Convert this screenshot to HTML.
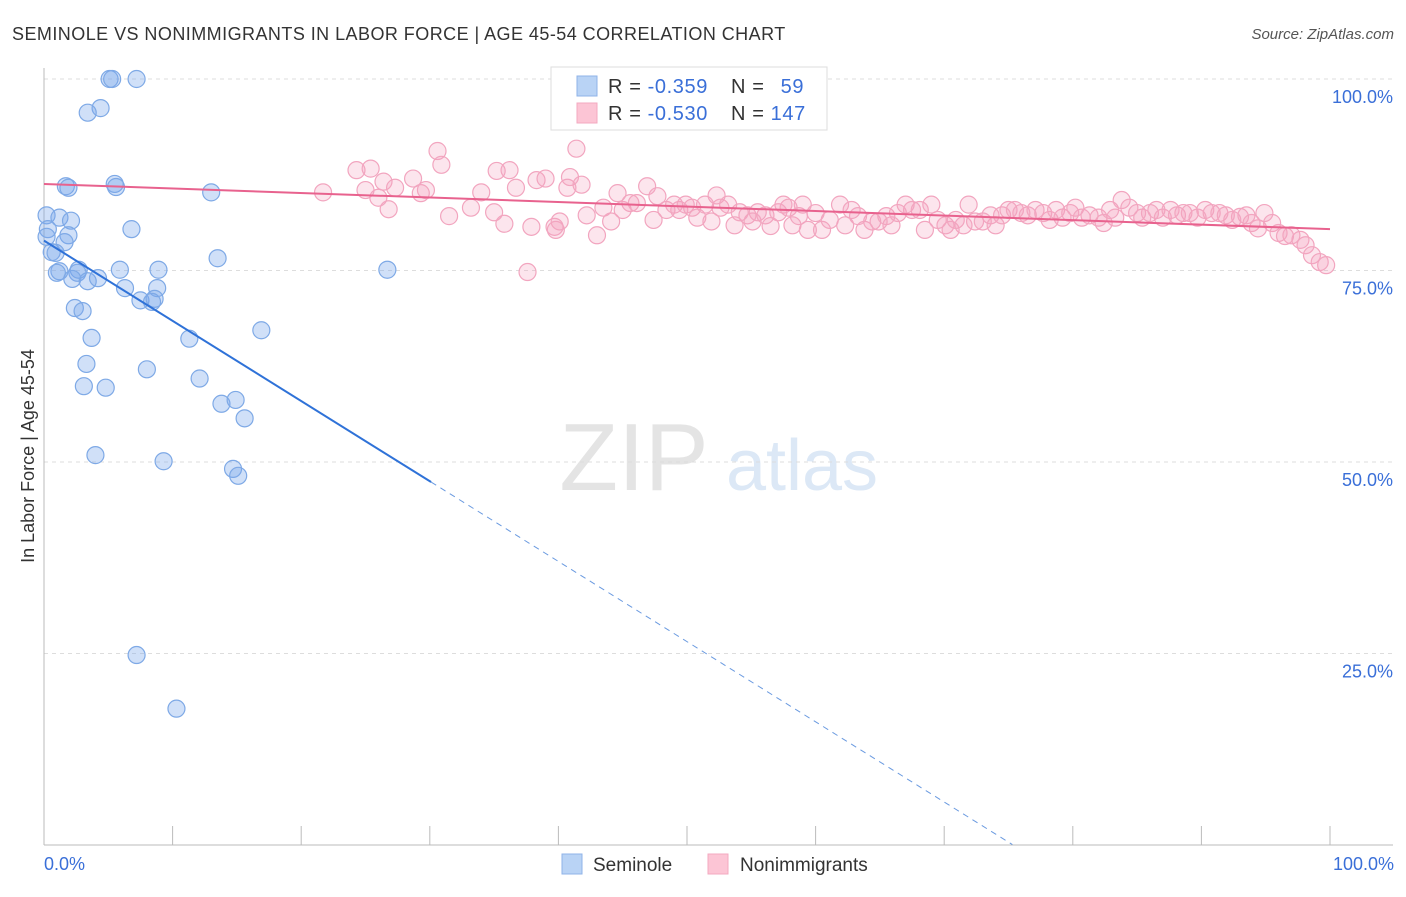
<!DOCTYPE html>
<html><head><meta charset="utf-8"><style>
body{margin:0;background:#fff;font-family:"Liberation Sans",sans-serif;}
svg text{font-family:"Liberation Sans",sans-serif;}
</style></head><body>
<svg id="chart" width="1406" height="892">
<text x="12" y="40" font-size="18" fill="#333" letter-spacing="0.45">SEMINOLE VS NONIMMIGRANTS IN LABOR FORCE | AGE 45-54 CORRELATION CHART</text>
<text x="1394" y="39" font-size="15" fill="#555" font-style="italic" text-anchor="end">Source: ZipAtlas.com</text>
<g>
<text x="634" y="490" font-size="96" fill="#e4e4e4" font-family="Liberation Serif" text-anchor="middle">ZIP</text>
<text x="802" y="490" font-size="72" fill="#dce8f6" text-anchor="middle">atlas</text>
</g>
<g id="grid"></g>
<g id="axes"></g>
<g id="pts"></g>
<g id="lines"></g>
<text transform="translate(34,456) rotate(-90)" font-size="18" fill="#333" text-anchor="middle">In Labor Force | Age 45-54</text>
<text x="44" y="870" font-size="18" fill="#3a6fd8">0.0%</text>
<text x="1394" y="870" font-size="18" fill="#3a6fd8" text-anchor="end">100.0%</text>
<g>
<rect x="551" y="67" width="276" height="63" fill="#fff" stroke="#ddd"/>
<rect x="577" y="76" width="20" height="20" fill="#b9d3f5" stroke="#8fb3e8"/>
<rect x="577" y="103" width="20" height="20" fill="#fcc5d5" stroke="#f3a9c0"/>
<text x="608" y="93" font-size="20" fill="#333" letter-spacing="0.6">R = <tspan fill="#3a6fd8">-0.359</tspan></text>
<text x="731" y="93" font-size="20" fill="#333" letter-spacing="0.6">N = <tspan fill="#3a6fd8" dx="10">59</tspan></text>
<text x="608" y="120" font-size="20" fill="#333" letter-spacing="0.6">R = <tspan fill="#3a6fd8">-0.530</tspan></text>
<text x="731" y="120" font-size="20" fill="#333" letter-spacing="0.6">N = <tspan fill="#3a6fd8">147</tspan></text>
</g>
<g>
<rect x="562" y="854" width="20" height="20" fill="#b9d3f5" stroke="#8fb3e8"/>
<text x="593" y="871" font-size="19" fill="#333">Seminole</text>
<rect x="708" y="854" width="20" height="20" fill="#fcc5d5" stroke="#f3a9c0"/>
<text x="740" y="871" font-size="19" fill="#333">Nonimmigrants</text>
</g>
</svg>
<script>
const yTicks=[100,75,50,25];
const yTickLabels=["100.0%","75.0%","50.0%","25.0%"];
const xTicks=[0,10,20,30,40,50,60,70,80,90,100];
const semX=[5.1,5.3,7.2,4.4,3.4,1.7,1.9,5.5,5.6,13.0,0.2,1.2,2.1,6.8,0.3,1.9,1.6,0.2,0.6,0.9,13.5,1.2,1.0,2.7,2.6,5.9,8.9,26.7,2.2,3.4,4.2,6.3,8.8,7.5,8.6,8.4,2.4,3.0,16.9,3.7,11.3,3.3,8.0,12.1,3.1,4.8,13.8,14.9,15.6,4.0,9.3,14.7,15.1,7.2,10.3];
const semY=[100,100,100,96.2,95.6,86.0,85.8,86.3,85.9,85.2,82.2,81.9,81.5,80.4,80.4,79.6,78.7,79.4,77.4,77.3,76.6,74.9,74.7,75.1,74.7,75.1,75.1,75.1,73.9,73.6,74.0,72.7,72.7,71.1,71.3,70.9,70.1,69.7,67.2,66.2,66.1,62.8,62.1,60.9,59.9,59.7,57.6,58.1,55.7,50.9,50.1,49.1,48.2,24.8,17.8];
const nonX=[21.7,24.3,25.4,25.0,26.0,26.4,26.8,27.3,28.7,29.3,29.7,30.6,30.9,31.5,33.2,34.0,35.0,35.2,36.2,35.8,36.7,37.6,37.9,38.3,39.0,39.7,39.8,40.1,40.7,40.9,41.4,41.8,42.2,43.0,43.5,44.1,44.6,45.0,45.6,46.1,46.9,47.4,47.7,48.4,49.0,49.4,49.9,50.4,50.8,51.4,51.9,52.3,52.6,53.2,53.7,54.1,54.7,55.1,55.5,56.1,56.5,57.1,57.5,57.9,58.2,58.7,59.0,59.4,60.0,60.5,61.1,61.9,62.3,62.8,63.3,63.8,64.4,64.9,65.5,65.9,66.4,67.0,67.5,68.1,68.5,69.0,69.5,70.1,70.5,70.9,71.5,71.9,72.4,73.0,73.6,74.0,74.5,75.0,75.5,76.0,76.5,77.1,77.7,78.2,78.7,79.2,79.8,80.2,80.7,81.3,82.0,82.4,82.9,83.3,83.8,84.4,85.0,85.4,86.0,86.5,87.0,87.6,88.1,88.6,89.1,89.7,90.3,90.8,91.4,91.9,92.4,93.0,93.5,93.9,94.4,94.9,95.5,96.0,96.5,97.0,97.7,98.1,98.6,99.2,99.7];
const nonY=[85.2,88.1,88.3,85.5,84.5,86.6,83.0,85.8,87.0,85.1,85.5,90.6,88.8,82.1,83.2,85.2,82.6,88.0,88.1,81.1,85.8,74.8,80.7,86.8,87.0,80.7,80.3,81.4,85.8,87.2,90.9,86.2,82.2,79.6,83.2,81.4,85.1,82.9,83.8,83.8,86.0,81.6,84.7,82.9,83.6,82.9,83.6,83.2,81.9,83.6,81.4,84.8,83.2,83.6,80.9,82.6,82.2,81.4,82.6,82.2,80.8,82.6,83.6,83.2,80.9,82.1,83.6,80.3,82.5,80.3,81.6,83.6,80.9,82.9,82.1,80.3,81.4,81.4,82.1,80.9,82.5,83.6,82.9,82.9,80.3,83.6,81.6,80.9,80.3,81.6,80.9,83.6,81.4,81.4,82.2,80.9,82.2,82.9,82.9,82.5,82.2,82.9,82.5,81.6,82.9,81.9,82.5,83.2,81.9,82.2,81.9,81.2,82.9,81.9,84.2,83.2,82.5,81.9,82.5,82.9,81.9,82.9,82.2,82.5,82.5,81.9,82.9,82.5,82.5,82.2,81.6,82.0,82.2,81.2,80.5,82.5,81.2,79.9,79.5,79.6,79.0,78.3,77.0,76.1,75.7];
const semTrend=[78.9,-1.047];
const nonTrend=[86.3,-0.059];
const NS="http://www.w3.org/2000/svg";
const X=v=>44+v*12.86, Y=v=>845-v*7.66;
function mk(t,a,p){const e=document.createElementNS(NS,t);for(const k in a)e.setAttribute(k,a[k]);p.appendChild(e);return e;}
const grid=document.getElementById('grid'),axes=document.getElementById('axes'),pts=document.getElementById('pts'),lines=document.getElementById('lines');
yTicks.forEach((t,i)=>{
 const l=mk('line',{x1:44,x2:1393,y1:Y(t),y2:Y(t),stroke:'#ddd','stroke-dasharray':'4,4'},grid);
 
 
 const tx=mk('text',{x:1393,y:Y(t)+24,'font-size':18,fill:'#3a6fd8','text-anchor':'end'},grid);
 tx.textContent=yTickLabels[i];
 
 
});
const ax=mk('line',{x1:44,x2:44,y1:68,y2:845,stroke:'#bbb'},axes);


const xa=mk('line',{x1:44,x2:1393,y1:845,y2:845,stroke:'#bbb'},axes);


xTicks.forEach(t=>{
 const l=mk('line',{x1:X(t),x2:X(t),y1:826,y2:845,stroke:'#bbb'},axes);
 
 
});
nonX.forEach((v,i)=>{
 const c=mk('circle',{cx:X(v),cy:Y(nonY[i]),r:8.5,fill:'rgba(245,160,190,0.28)',stroke:'#f2a5bf','stroke-width':1.2},pts);
 
 
});
semX.forEach((v,i)=>{
 const c=mk('circle',{cx:X(v),cy:Y(semY[i]),r:8.5,fill:'rgba(120,165,235,0.35)',stroke:'#7ea9e6','stroke-width':1.2},pts);
 
 
});
const sy=x=>semTrend[0]+semTrend[1]*x;
let l1=mk('line',{x1:X(0),y1:Y(sy(0)),x2:X(30.1),y2:Y(sy(30.1)),stroke:'#2f72d8','stroke-width':2},lines);


let l2=mk('line',{x1:X(30.1),y1:Y(sy(30.1)),x2:X(75.3),y2:Y(sy(75.3)),stroke:'#6a9ae0','stroke-width':1,'stroke-dasharray':'6,5'},lines);


const ny=x=>nonTrend[0]+nonTrend[1]*x;
let l3=mk('line',{x1:X(0),y1:Y(ny(0)),x2:X(100),y2:Y(ny(100)),stroke:'#e8628e','stroke-width':2},lines);


</script>
</body></html>
